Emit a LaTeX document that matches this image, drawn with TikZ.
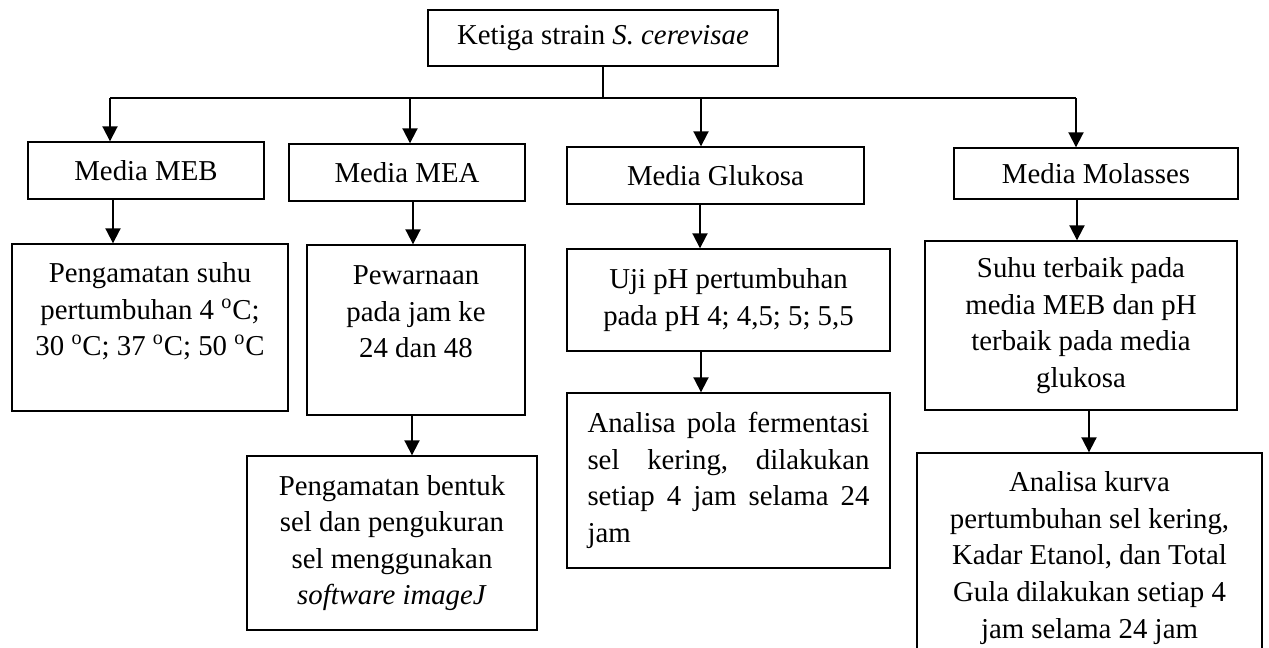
\documentclass[tikz,border=0pt]{standalone}
\usepackage{fontspec}
\setmainfont{Liberation Serif}
\usetikzlibrary{arrows.meta}
\tikzset{
  kotak/.style={draw, line width=0.8pt, inner sep=0pt, align=center,
    font=\fontsize{16.4}{20.8}\selectfont},
  panah/.style={->, line width=1.1pt}
}
\newcommand{\derajat}{\textsuperscript{o}C}
\newcommand{\rata}[1]{\leavevmode\hbox to 5.64cm{#1}}

\begin{document}
\begin{tikzpicture}[x=0.02cm, y=-0.02cm, >={Triangle[width=0.3cm,length=0.3cm]}]
\useasboundingbox (0,0) rectangle (1269,648);
% kotak atas
\node[kotak, minimum width=7cm, minimum height=1.12cm] (strain) at (603,38) {Ketiga strain \textit{S. cerevisae}};
% media
\node[kotak, minimum width=4.72cm, minimum height=1.14cm] (meb) at (146,170.5) {Media MEB};
\node[kotak, minimum width=4.72cm, minimum height=1.14cm] (mea) at (407,172.5) {Media MEA};
\node[kotak, minimum width=5.94cm, minimum height=1.14cm] (glu) at (715.5,175.5) {Media Glukosa};
\node[kotak, minimum width=5.68cm, minimum height=1.02cm] (mol) at (1096,173.5) {Media Molasses};
% perlakuan
\node[kotak, minimum width=5.52cm, minimum height=3.34cm] (suhu) at (150,327.5)
  {Pengamatan suhu\\ pertumbuhan 4 \derajat;\\ 30 \derajat; 37 \derajat; 50 \derajat\\ \mbox{}};
\node[kotak, minimum width=4.36cm, minimum height=3.4cm] (warna) at (416,330)
  {Pewarnaan\\ pada jam ke\\ 24 dan 48\\ \mbox{}};
\node[kotak, minimum width=5.8cm, minimum height=3.48cm] (bentuk) at (392,543)
  {Pengamatan bentuk\\ sel dan pengukuran\\ sel menggunakan\\ \textit{software imageJ}};
\node[kotak, minimum width=6.46cm, minimum height=2.04cm] (uji) at (728.5,300)
  {Uji pH pertumbuhan\\ pada pH 4; 4,5; 5; 5,5};
\node[kotak, minimum width=6.46cm, minimum height=3.5cm, text width=5.64cm, align=left] (pola) at (728.5,480.5)
  {\rata{Analisa\hfill pola\hfill fermentasi}\\ \rata{sel\hfill kering,\hfill dilakukan}\\
   \rata{setiap\hfill 4\hfill jam\hfill selama\hfill 24}\\ jam};
\node[kotak, minimum width=6.24cm, minimum height=3.38cm] (baik) at (1081,325.5)
  {Suhu terbaik pada\\ media MEB dan pH\\ terbaik pada media\\ glukosa};
\node[kotak, minimum width=6.9cm, minimum height=4.2cm] (kurva) at (1089.5,558)
  {Analisa kurva\\ pertumbuhan sel kering,\\ Kadar Etanol, dan Total\\ Gula dilakukan setiap 4\\ jam selama 24 jam};
% percabangan
\coordinate (t1) at (110,98); \coordinate (t2) at (410,98);
\coordinate (t3) at (701,98); \coordinate (t4) at (1076,98);
\draw[line width=0.85pt] (strain.south) -- (strain.south |- t1);
\draw[line width=0.7pt] (t1) -- (t4);
\foreach \tp/\nd in {t1/meb,t2/mea,t3/glu,t4/mol}
  {\draw[panah] (\tp) -- (\tp |- \nd.north);}
% panah antar kotak
\coordinate (k1) at (113,0); \coordinate (k2) at (413,0); \coordinate (k3) at (700,0);
\coordinate (k4) at (1077,0); \coordinate (k5) at (412,0); \coordinate (k6) at (701,0);
\coordinate (k7) at (1089,0);
\foreach \k/\a/\b in {k1/meb/suhu,k2/mea/warna,k3/glu/uji,k4/mol/baik,k5/warna/bentuk,k6/uji/pola,k7/baik/kurva}
  {\draw[panah] (\a.south -| \k) -- (\b.north -| \k);}
\end{tikzpicture}
\end{document}
